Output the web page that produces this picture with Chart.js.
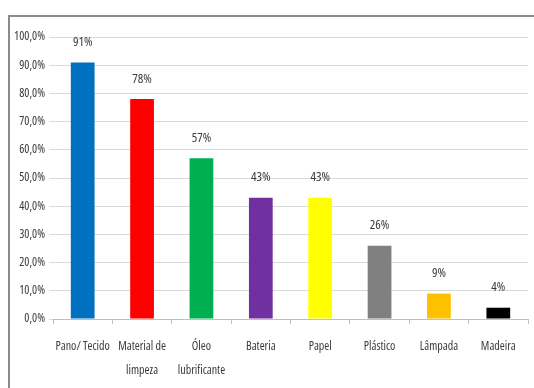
<!DOCTYPE html>
<html>
<head>
<meta charset="utf-8">
<script src="https://cdn.jsdelivr.net/npm/chart.js@4.4.1/dist/chart.umd.min.js"></script>
<style>
  html, body { margin: 0; padding: 0; background: #fff; overflow: hidden; }
  body { width: 534px; height: 388px; position: relative; }
  #frame {
    position: absolute; left: 8px; top: 15px;
    width: 540px; height: 380px;
    box-sizing: border-box;
    border-left: 2px solid #8c8c8c; border-top: 2px solid #8c8c8c;
  }
  canvas { display: block; }
</style>
</head>
<body>
<div id="frame"><canvas id="chart" width="524" height="371"></canvas></div>
<script>
// Share of each residue type
const categories = [
    "Pano/ Tecido",
    ["Material de", "limpeza"],
    ["Óleo", "lubrificante"],
    "Bateria",
    "Papel",
    "Plástico",
    "Lâmpada",
    "Madeira",
];
const values = [91, 78, 57, 43, 43, 26, 9, 4];
const barColors = ["#0070c0", "#ff0000", "#00b050", "#7030a0", "#ffff00", "#808080", "#ffc000", "#000000"];
const yTicks = [0, 10, 20, 30, 40, 50, 60, 70, 80, 90, 100];

const FAMILY = "'Open Sans', sans-serif";
const STRETCH = "condensed"; // goes into the weight slot of the font string
const TEXT_COLOR = "#3a3a3a";

// value labels above the bars
const valueLabels = {
    id: "valueLabels",
    afterDatasetsDraw(chart) {
        const ctx = chart.ctx;
        const meta = chart.getDatasetMeta(0);
        ctx.save();
        ctx.font = STRETCH + " 13px " + FAMILY;
        ctx.fillStyle = TEXT_COLOR;
        ctx.textAlign = "center";
        ctx.textBaseline = "middle";
        meta.data.forEach((bar, i) => {
            ctx.fillText(values[i] + "%", bar.x, bar.y - 20);
        });
        ctx.restore();
    }
};

new Chart(document.getElementById("chart"), {
    type: "bar",
    data: {
        labels: categories,
        datasets: [{
            data: values,
            backgroundColor: barColors,
            borderWidth: 0,
            barPercentage: 0.4,
            categoryPercentage: 1.0,
        }],
    },
    options: {
        responsive: false,
        animation: false,
        layout: { padding: { top: 20, right: 6, left: 0, bottom: 0 } },
        plugins: {
            legend: { display: false },
            tooltip: { enabled: false },
        },
        scales: {
            x: {
                grid: { drawOnChartArea: false, tickLength: 5, color: "#bfbfbf", offset: true },
                border: { color: "#bfbfbf" },
                ticks: {
                    font: { family: FAMILY, size: 12, weight: STRETCH, lineHeight: 2.0 },
                    color: TEXT_COLOR,
                    padding: 11,
                    maxRotation: 0,
                    autoSkip: false,
                },
                afterFit(scale) { scale.height = 69; },
            },
            y: {
                min: 0,
                max: 100,
                afterBuildTicks(scale) { scale.ticks = yTicks.map(v => ({ value: v })); },
                grid: { color: "#d9d9d9", tickLength: 4 },
                border: { display: false },
                ticks: {
                    font: { family: FAMILY, size: 12, weight: STRETCH },
                    color: TEXT_COLOR,
                    padding: 4,
                    callback: v => v.toFixed(1).replace(".", ",") + "%",
                },
                afterFit(scale) { scale.width = 43; },
            },
        },
    },
    plugins: [valueLabels],
});
</script>
</body>
</html>
